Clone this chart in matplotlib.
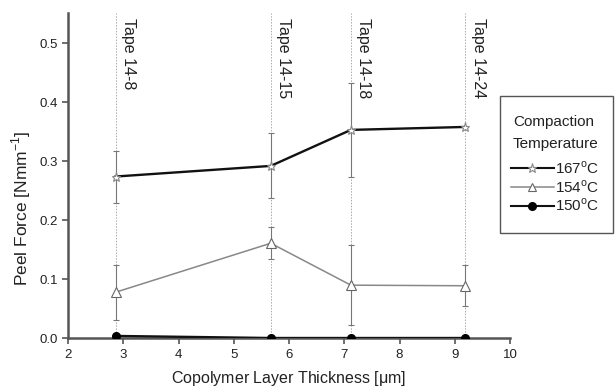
import matplotlib
matplotlib.use("Agg")
import matplotlib.pyplot as plt
from matplotlib.lines import Line2D
from matplotlib.patches import Rectangle

plt.rcParams['font.family'] = ['Liberation Sans', 'DejaVu Sans']
plt.rcParams['mathtext.fontset'] = 'custom'
plt.rcParams['mathtext.rm'] = 'Liberation Sans'

# Copolymer layer thickness of each tape [um]
tapes = ["Tape 14-8", "Tape 14-15", "Tape 14-18", "Tape 14-24"]
thickness = [2.86, 5.67, 7.12, 9.19]

# Peel force [N/mm] per compaction temperature
peel_167 = [0.274, 0.292, 0.353, 0.358]
err_167 = [0.044, 0.055, 0.080, 0.0]
peel_154 = [0.078, 0.161, 0.090, 0.089]
err_154 = [0.047, 0.027, 0.068, 0.035]
peel_150 = [0.004, 0.0005, 0.0005, 0.0005]

W, H = 615, 390
fig = plt.figure(figsize=(W / 100, H / 100), dpi=100)
ax = fig.add_axes([68 / W, 1 - 338.3 / H, (510 - 68) / W, (338.3 - 13) / H])

spine_c = '#555555'
text_c = '#222222'
for s in ['top', 'right']:
    ax.spines[s].set_visible(False)
for s in ['left', 'bottom']:
    ax.spines[s].set_color(spine_c)
    ax.spines[s].set_linewidth(1.8)

# reference lines for each tape
for x, name in zip(thickness, tapes):
    ax.axvline(x, color='#aaaaaa', lw=0.7, ls=(0, (1.5, 1.5)), zorder=0)
    ax.text(x + 0.1, 0.542, name, rotation=270, ha='left', va='top',
            fontsize=11.5, color=text_c)

ax.errorbar(thickness, peel_167, yerr=err_167, fmt='none', ecolor='#777777',
            elinewidth=0.8, capsize=2.3, capthick=0.8, zorder=2)
ax.errorbar(thickness, peel_154, yerr=err_154, fmt='none', ecolor='#777777',
            elinewidth=0.8, capsize=2.3, capthick=0.8, zorder=2)

ax.plot(thickness, peel_167, color='#111111', lw=1.7, marker='*',
        ms=6.5, mfc='white', mec='#888888', mew=0.8, zorder=3)
ax.plot(thickness, peel_154, color='#888888', lw=1.1, marker='^',
        ms=6.5, mfc='white', mec='#666666', mew=0.8, zorder=3)
ax.plot(thickness, peel_150, color='#111111', lw=1.7, marker='o',
        ms=5.5, mfc='black', mec='black', zorder=4)

ax.set_xlim(2, 10)
ax.set_ylim(0, 0.551)
ax.set_xticks(range(2, 11))
ax.set_yticks([0.0, 0.1, 0.2, 0.3, 0.4, 0.5])
ax.set_yticklabels(['0.0', '0.1', '0.2', '0.3', '0.4', '0.5'])
ax.tick_params(direction='out', length=4.5, width=1.2, color=spine_c,
               labelsize=9.5, labelcolor=text_c, pad=3)

ax.set_xlabel(r'Copolymer Layer Thickness [$\mathregular{\mu}$m]', fontsize=11.5,
              color=text_c, labelpad=6)
ax.set_ylabel(r'Peel Force [Nmm$^{\mathregular{-1}}$]', fontsize=12.5,
              color=text_c)
ax.yaxis.set_label_coords(-0.079, 0.40)

# legend: framed box with a two-line title and three entries
fig.patches.append(Rectangle((500 / W, 1 - 233 / H), (613 - 500) / W,
                             (233 - 96) / H, transform=fig.transFigure,
                             fill=False, ec='#555555', lw=1.0))
fig.text(513 / W, 1 - 126 / H, 'Compaction', fontsize=11, color=text_c,
         ha='left', va='baseline')
fig.text(513 / W, 1 - 148 / H, 'Temperature', fontsize=11, color=text_c,
         ha='left', va='baseline')

handles = [
    Line2D([], [], color='#111111', lw=1.5, marker='*', ms=6.5, mfc='white',
           mec='#888888', mew=0.8),
    Line2D([], [], color='#888888', lw=1.1, marker='^', ms=6, mfc='white',
           mec='#666666', mew=0.8),
    Line2D([], [], color='#111111', lw=1.5, marker='o', ms=5.5, mfc='black',
           mec='black'),
]
labels = [r'167$^{\mathregular{o}}$C', r'154$^{\mathregular{o}}$C',
          r'150$^{\mathregular{o}}$C']
leg = fig.legend(handles, labels, loc='center left',
                 bbox_to_anchor=(511 / W, 1 - 187 / H),
                 fontsize=11, frameon=False, handlelength=2.8,
                 handletextpad=0.1, labelspacing=0.12, borderpad=0,
                 borderaxespad=0)
for t in leg.get_texts():
    t.set_color(text_c)

fig.savefig('out.png', dpi=100)
